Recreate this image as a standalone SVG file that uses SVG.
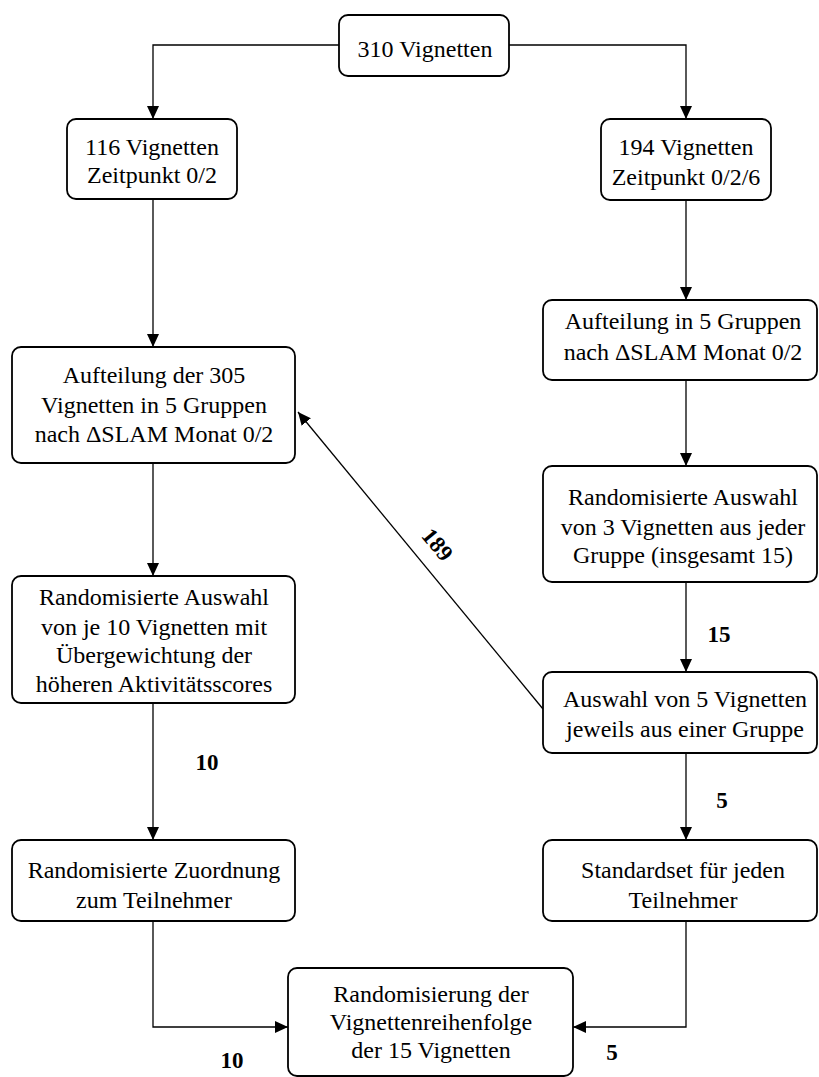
<svg xmlns="http://www.w3.org/2000/svg" width="819" height="1077" viewBox="0 0 819 1077">
<defs>
<marker id="ah" markerUnits="userSpaceOnUse" markerWidth="14" markerHeight="14" viewBox="0 0 14 14" refX="13" refY="7" orient="auto">
<path d="M0,1 L13,7 L0,13 Z" fill="#000"/>
</marker>
<style>
.box{fill:#fff;stroke:#000;stroke-width:1.8}
.t{font-family:'Liberation Serif','Tinos','DejaVu Serif','Noto Serif',serif;font-size:24px;fill:#000;text-anchor:middle}
.n{font-family:'Liberation Serif','Tinos','DejaVu Serif','Noto Serif',serif;font-size:23px;font-weight:bold;fill:#000;text-anchor:middle}
.c{fill:none;stroke:#000;stroke-width:1.3;marker-end:url(#ah)}
</style>
</defs>
<rect width="819" height="1077" fill="#fff"/>
<g id="connectors">
<path class="c" d="M339,45 H153 V119"/>
<path class="c" d="M509,45 H686 V119"/>
<path class="c" d="M153,199 V347"/>
<path class="c" d="M153,463 V576"/>
<path class="c" d="M153,703 V840"/>
<path class="c" d="M153,921 V1027 H288"/>
<path class="c" d="M686,200 V300"/>
<path class="c" d="M686,380 V466"/>
<path class="c" d="M686,582 V672"/>
<path class="c" d="M686,753 V840"/>
<path class="c" d="M686,921 V1027 H573"/>
<path class="c" d="M543,709 L298,412"/>
<text class="n" x="207" y="770">10</text>
<text class="n" x="719" y="642">15</text>
<text class="n" x="722" y="808">5</text>
<text class="n" x="232" y="1068">10</text>
<text class="n" x="612" y="1060">5</text>
<text class="n" transform="translate(437,545) rotate(50)" y="7">189</text>
</g>
<g id="n310">
<rect class="box" x="339" y="15" width="170" height="61" rx="9"/>
<text class="t" x="425" y="57">310 Vignetten</text>
</g>
<g id="n116">
<rect class="box" x="67" y="119" width="170" height="80" rx="9"/>
<text class="t" x="152" y="155">116 Vignetten</text>
<text class="t" x="152" y="183">Zeitpunkt 0/2</text>
</g>
<g id="n194">
<rect class="box" x="601" y="119" width="170" height="81" rx="9"/>
<text class="t" x="686" y="155">194 Vignetten</text>
<text class="t" x="686" y="185">Zeitpunkt 0/2/6</text>
</g>
<g id="nAufL">
<rect class="box" x="12" y="347" width="283" height="116" rx="9"/>
<text class="t" x="154" y="383">Aufteilung der 305</text>
<text class="t" x="154" y="413">Vignetten in 5 Gruppen</text>
<text class="t" x="154" y="442">nach ΔSLAM Monat 0/2</text>
</g>
<g id="nRandL">
<rect class="box" x="12" y="576" width="283" height="127" rx="9"/>
<text class="t" x="154" y="605">Randomisierte Auswahl</text>
<text class="t" x="154" y="635">von je 10 Vignetten mit</text>
<text class="t" x="154" y="663">Übergewichtung der</text>
<text class="t" x="154" y="692">höheren Aktivitätsscores</text>
</g>
<g id="nZuord">
<rect class="box" x="12" y="840" width="283" height="81" rx="9"/>
<text class="t" x="154" y="878">Randomisierte Zuordnung</text>
<text class="t" x="154" y="908">zum Teilnehmer</text>
</g>
<g id="nAufR">
<rect class="box" x="543" y="300" width="274" height="80" rx="9"/>
<text class="t" x="683" y="329">Aufteilung in 5 Gruppen</text>
<text class="t" x="683" y="360">nach ΔSLAM Monat 0/2</text>
</g>
<g id="nRandR">
<rect class="box" x="543" y="466" width="274" height="116" rx="9"/>
<text class="t" x="683" y="505">Randomisierte Auswahl</text>
<text class="t" x="683" y="535">von 3 Vignetten aus jeder</text>
<text class="t" x="683" y="563">Gruppe (insgesamt 15)</text>
</g>
<g id="nAusw5">
<rect class="box" x="543" y="672" width="274" height="81" rx="9"/>
<text class="t" x="685" y="707">Auswahl von 5 Vignetten</text>
<text class="t" x="685" y="737">jeweils aus einer Gruppe</text>
</g>
<g id="nStd">
<rect class="box" x="543" y="840" width="274" height="81" rx="9"/>
<text class="t" x="683" y="878">Standardset für jeden</text>
<text class="t" x="683" y="908">Teilnehmer</text>
</g>
<g id="nFinal">
<rect class="box" x="288" y="968" width="285" height="108" rx="9"/>
<text class="t" x="431" y="1002">Randomisierung der</text>
<text class="t" x="431" y="1030">Vignettenreihenfolge</text>
<text class="t" x="431" y="1058">der 15 Vignetten</text>
</g>
</svg>
